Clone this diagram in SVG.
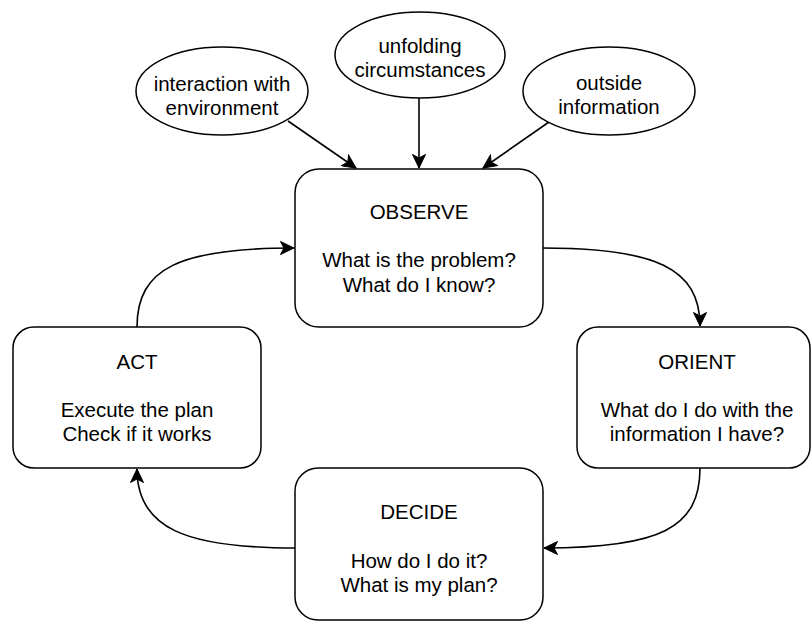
<svg xmlns="http://www.w3.org/2000/svg" width="812" height="622" viewBox="0 0 812 622">
<defs>
<style>
.n{fill:#ffffff;stroke:#000000;stroke-width:1.5}
.t{font-family:"Liberation Sans",Arial,Helvetica,sans-serif;font-size:20.5px;fill:#000000;text-anchor:middle}
.e{fill:none;stroke:#000000;stroke-width:1.6}
</style>
<marker id="arr" markerUnits="userSpaceOnUse" markerWidth="16" markerHeight="14" refX="14" refY="7" orient="auto">
<path d="M0.5,0.5 L14,7 L0.5,13.5 L4,7 Z" fill="#000000" stroke="#000000" stroke-width="1"/>
</marker>
</defs>
<rect width="812" height="622" fill="#ffffff"/>
<g id="connectors">
<path class="e" d="M288,121 L356,168" marker-end="url(#arr)"/>
<path class="e" d="M419,98 L419,168" marker-end="url(#arr)"/>
<path class="e" d="M549,122 L483,168" marker-end="url(#arr)"/>
<path class="e" d="M137,327 C137,268 180,248 294,248" marker-end="url(#arr)"/>
<path class="e" d="M543,248 C655,248 700,268 700,326" marker-end="url(#arr)"/>
<path class="e" d="M700,468 C700,528 660,548 544,548" marker-end="url(#arr)"/>
<path class="e" d="M295,548 C185,548 137,528 137,469" marker-end="url(#arr)"/>
</g>
<g id="interaction">
<ellipse class="n" cx="222" cy="91" rx="86" ry="44"/>
<text class="t" x="222" y="91">interaction with</text>
<text class="t" x="222" y="115">environment</text>
</g>
<g id="unfolding">
<ellipse class="n" cx="420" cy="55" rx="85" ry="43"/>
<text class="t" x="420" y="53">unfolding</text>
<text class="t" x="420" y="77">circumstances</text>
</g>
<g id="outside">
<ellipse class="n" cx="609" cy="91" rx="86" ry="44"/>
<text class="t" x="609" y="90">outside</text>
<text class="t" x="609" y="114">information</text>
</g>
<g id="observe">
<rect class="n" x="295" y="169" width="248" height="158" rx="24" ry="24"/>
<text class="t" x="419" y="219">OBSERVE</text>
<text class="t" x="419" y="267">What is the problem?</text>
<text class="t" x="419" y="292">What do I know?</text>
</g>
<g id="orient">
<rect class="n" x="577" y="327" width="233" height="141" rx="21" ry="21"/>
<text class="t" x="697" y="369">ORIENT</text>
<text class="t" x="697" y="417">What do I do with the</text>
<text class="t" x="697" y="441">information I have?</text>
</g>
<g id="act">
<rect class="n" x="13" y="327" width="248" height="141" rx="21" ry="21"/>
<text class="t" x="137" y="369">ACT</text>
<text class="t" x="137" y="417">Execute the plan</text>
<text class="t" x="137" y="441">Check if it works</text>
</g>
<g id="decide">
<rect class="n" x="295" y="468" width="248" height="152" rx="23" ry="23"/>
<text class="t" x="419" y="519">DECIDE</text>
<text class="t" x="419" y="568">How do I do it?</text>
<text class="t" x="419" y="592">What is my plan?</text>
</g>
</svg>
